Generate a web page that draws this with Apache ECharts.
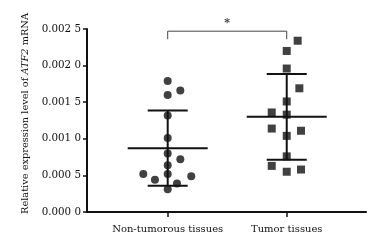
<!DOCTYPE html>
<html>
<head>
<meta charset="utf-8">
<script src="https://cdn.jsdelivr.net/npm/echarts@6/dist/echarts.min.js"></script>
<style>
  html, body { margin: 0; padding: 0; background: #fff; }
  #chart { width: 377px; height: 240px; }
</style>
</head>
<body>
<div id="chart"></div>
<script>
// groups sit at x = 1 and x = 2 on a hidden value axis
const groups = ["Non-tumorous tissues", "Tumor tissues"];

// ATF2 relative expression, with small horizontal jitter
const nonTumor = [0.00179, 0.00160, 0.00166, 0.00132, 0.00101, 0.00080, 0.00072,
  0.00064, 0.00052, 0.00044, 0.00052, 0.00049, 0.00039, 0.00031];
const nonTumorJitter = [0, 0, 0.106, 0, 0, 0, 0.106, 0, -0.205, -0.107, 0, 0.198, 0.078, 0];

const tumor = [0.00234, 0.00220, 0.00196, 0.00169, 0.00151, 0.00136, 0.00133,
  0.00114, 0.00111, 0.00104, 0.00076, 0.00063, 0.00055, 0.00058];
const tumorJitter = [0.092, 0, 0, 0.106, 0, -0.126, 0, -0.126, 0.12, 0, 0, -0.126, 0, 0.12];

const yTickLabels = ["0.000 0", "0.000 5", "0.001 0", "0.001 5", "0.002 0", "0.002 5"];
const sigLevel = 0.00247; // height of the "*" bracket
const FONT = "DejaVu Serif";

function meanSd(arr) {
  const m = arr.reduce((a, b) => a + b, 0) / arr.length;
  const v = arr.reduce((a, b) => a + (b - m) * (b - m), 0) / (arr.length - 1);
  return [m, Math.sqrt(v)];
}

const pts = (vals, jit, pos) => vals.map((v, i) => [pos + jit[i], v]);
const stats = [nonTumor, tumor].map((arr, i) => [i + 1].concat(meanSd(arr)));

const chart = echarts.init(document.getElementById("chart"));
chart.setOption({
  animation: false,
  backgroundColor: "#fff",
  textStyle: { fontFamily: FONT },
  grid: { left: 87, right: 11, top: 29, bottom: 28 },
  xAxis: {
    type: "value",
    min: 0.322,
    max: 2.666,
    splitLine: { show: false },
    axisLine: { lineStyle: { color: "#111", width: 2 } },
    axisTick: { show: true, length: 5, customValues: [1, 2], lineStyle: { color: "#111", width: 1.5 } },
    axisLabel: {
      customValues: [1, 2],
      formatter: (v) => groups[Math.round(v) - 1],
      color: "#111", fontFamily: FONT, fontSize: 10, margin: 12,
    },
  },
  yAxis: {
    type: "value",
    min: 0,
    max: 0.0025,
    interval: 0.0005,
    splitLine: { show: false },
    axisLine: { show: true, lineStyle: { color: "#111", width: 2 } },
    axisTick: { show: true, length: 4, lineStyle: { color: "#111", width: 1.5 } },
    axisLabel: {
      formatter: (v, i) => yTickLabels[i],
      color: "#111", fontFamily: FONT, fontSize: 10.3, margin: 6,
    },
    name: "{n|Relative expression level of }{i|ATF2}{n| mRNA}",
    nameLocation: "middle",
    nameRotate: 90,
    nameGap: 57,
    nameTextStyle: {
      padding: [0, 0, 0, 14],
      rich: {
        n: { fontFamily: FONT, fontSize: 9.8, color: "#111" },
        i: { fontFamily: FONT, fontSize: 9.8, color: "#111", fontStyle: "italic" },
      },
    },
  },
  series: [
    {
      type: "custom",
      data: stats,
      z: 2,
      renderItem(params, api) {
        const x = api.value(0), m = api.value(1), sd = api.value(2);
        const c = api.coord([x, m]);
        const hi = api.coord([x, m + sd]);
        const lo = api.coord([x, m - sd]);
        const st = { stroke: "#111", lineWidth: 2 };
        const line = (x1, y1, x2, y2) => ({ type: "line", shape: { x1, y1, x2, y2 }, style: st });
        return {
          type: "group",
          children: [
            line(c[0], hi[1], c[0], lo[1]),
            line(c[0] - 40, c[1], c[0] + 40, c[1]),
            line(c[0] - 20, hi[1], c[0] + 20, hi[1]),
            line(c[0] - 20, lo[1], c[0] + 20, lo[1]),
          ],
        };
      },
    },
    {
      type: "scatter",
      data: pts(nonTumor, nonTumorJitter, 1),
      symbol: "circle",
      symbolSize: 8,
      itemStyle: { color: "#111" },
      z: 3,
    },
    {
      type: "scatter",
      data: pts(tumor, tumorJitter, 2),
      symbol: "rect",
      symbolSize: 8,
      itemStyle: { color: "#111" },
      z: 3,
    },
    {
      type: "custom",
      data: [[1, 2, sigLevel]],
      clip: false,
      renderItem(params, api) {
        const a = api.coord([api.value(0), api.value(2)]);
        const b = api.coord([api.value(1), api.value(2)]);
        return {
          type: "group",
          children: [
            {
              type: "polyline",
              shape: { points: [[a[0], a[1] + 8], a, b, [b[0], b[1] + 8]] },
              style: { stroke: "#444", lineWidth: 1, fill: null },
            },
            {
              type: "text",
              style: {
                text: "*", x: (a[0] + b[0]) / 2, y: a[1] - 3,
                align: "center", verticalAlign: "bottom",
                font: "bold 11px " + FONT, fill: "#333",
              },
            },
          ],
        };
      },
    },
  ],
});
</script>
</body>
</html>
